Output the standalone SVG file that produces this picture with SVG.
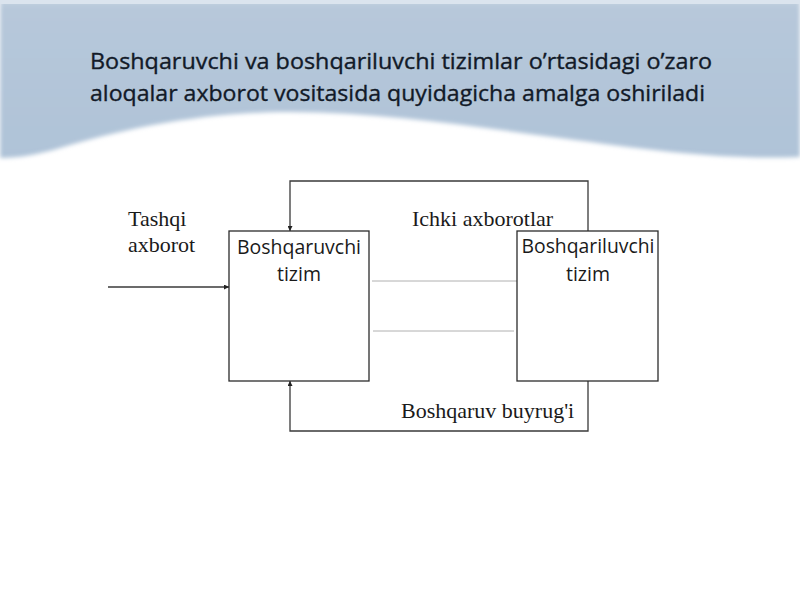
<svg xmlns="http://www.w3.org/2000/svg" width="800" height="600" viewBox="0 0 800 600">
<defs>
<linearGradient id="bg" x1="0" y1="0" x2="0" y2="1">
<stop offset="0" stop-color="#c3d1e0"/>
<stop offset="0.05" stop-color="#b7c8da"/>
<stop offset="1" stop-color="#afc3d8"/>
</linearGradient>
<filter id="blur" x="-5%" y="-20%" width="110%" height="140%"><feGaussianBlur stdDeviation="2"/></filter>
<marker id="arr" viewBox="0 0 6 6" refX="6" refY="3" markerWidth="5" markerHeight="5" markerUnits="userSpaceOnUse" orient="auto">
<path d="M0,0 L6,3 L0,6 Z" fill="#222"/>
</marker>
<style>
.title{font-family:"Open Sans","Noto Sans",sans-serif;font-size:22px;fill:#121a28;stroke:#121a28;stroke-width:0.35}
.node{fill:#ffffff;stroke:#2b2b2b;stroke-width:1.3}
.nlabel{font-family:"Open Sans","Noto Sans",sans-serif;font-size:19.5px;fill:#1a1a1a;text-anchor:middle}
.slabel{font-family:"Liberation Serif",serif;font-size:22px;fill:#1a1a1a}
.conn{fill:none;stroke:#3a3a3a;stroke-width:1.3}
.thin{fill:none;stroke:#b0b0b0;stroke-width:1}
</style>
</defs>
<rect x="0" y="0" width="800" height="600" fill="#ffffff"/>
<path d="M0,0 H800 V157 C720,160 650,150 560,138 C470,126 380,112 290,112 C200,112 120,130 60,148 C40,154 20,158 0,158 Z" fill="url(#bg)" filter="url(#blur)"/>
<rect x="0" y="0" width="800" height="4" fill="#dbe4ee"/>
<g id="title">
<text class="title" x="90" y="69" textLength="622" lengthAdjust="spacingAndGlyphs">Boshqaruvchi va boshqariluvchi tizimlar o’rtasidagi o’zaro</text>
<text class="title" x="90" y="101" textLength="615" lengthAdjust="spacingAndGlyphs">aloqalar axborot vositasida quyidagicha amalga oshiriladi</text>
</g>
<g id="connectors">
<polyline class="conn" points="588,231 588,181 290,181 290,231" marker-end="url(#arr)"/>
<polyline class="conn" points="588,381 588,431 290,431 290,381" marker-end="url(#arr)"/>
<line class="conn" x1="108" y1="287" x2="229" y2="287" marker-end="url(#arr)"/>
<line class="thin" x1="372" y1="281" x2="517" y2="281"/>
<line class="thin" x1="373" y1="331" x2="514" y2="331"/>
</g>
<g id="node-boshqaruvchi">
<rect class="node" x="229" y="231" width="140" height="150"/>
<text class="nlabel" x="299" y="254" textLength="124" lengthAdjust="spacingAndGlyphs">Boshqaruvchi</text>
<text class="nlabel" x="299" y="281">tizim</text>
</g>
<g id="node-boshqariluvchi">
<rect class="node" x="517" y="231" width="141" height="150"/>
<text class="nlabel" x="588" y="253" textLength="133" lengthAdjust="spacingAndGlyphs">Boshqariluvchi</text>
<text class="nlabel" x="588" y="281">tizim</text>
</g>
<g id="labels">
<text class="slabel" x="128" y="226">Tashqi</text>
<text class="slabel" x="128" y="252">axborot</text>
<text class="slabel" x="412" y="226">Ichki axborotlar</text>
<text class="slabel" x="401" y="418">Boshqaruv buyrug'i</text>
</g>
</svg>
